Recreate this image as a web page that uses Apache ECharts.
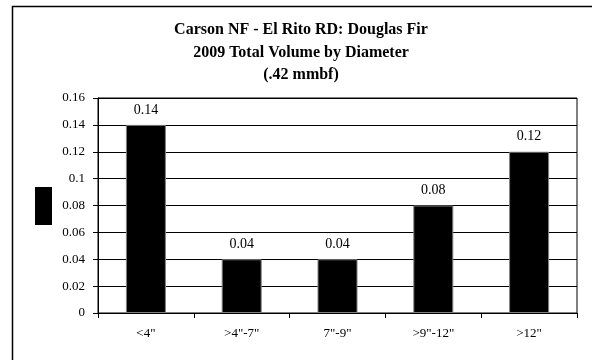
<!DOCTYPE html>
<html><head><meta charset="utf-8">
<script src="https://cdn.jsdelivr.net/npm/echarts@6/dist/echarts.min.js"></script>
<style>html,body{margin:0;padding:0;background:#fff}#c{width:592px;height:360px}</style>
</head><body><div id="c"></div>
<script>
var categories = ['<4"', '>4"-7"', '7"-9"', '>9"-12"', '>12"'];
var volumes = [0.14, 0.04, 0.04, 0.08, 0.12];
var titleLines = ['Carson NF - El Rito RD: Douglas Fir', '2009 Total Volume by Diameter', '(.42 mmbf)'];

var chart = echarts.init(document.getElementById('c'), null, {renderer: 'canvas'});
var serif = '"Liberation Serif", "DejaVu Serif", serif';
chart.setOption({
  animation: false,
  backgroundColor: '#fff',
  graphic: [{
    type: 'rect', shape: {x: 12.5, y: 6.5, width: 640, height: 420},
    style: {fill: 'none', stroke: '#000', lineWidth: 1.5}, silent: true
  }],
  title: {
    text: titleLines.join('\n'),
    left: 296, top: 14, textAlign: 'center',
    textStyle: {fontFamily: serif, fontWeight: 'bold', fontSize: 16, lineHeight: 22.5, color: '#000'}
  },
  legend: {
    data: [' '], left: 30, top: 182, itemWidth: 17, itemHeight: 38,
    icon: 'rect', formatter: function(){return '';}, itemGap: 0,
    itemStyle: {borderWidth: 0, color: '#000'},
    textStyle: {fontSize: 1}
  },
  grid: {left: 98, top: 98, right: 15, bottom: 47, show: true, borderColor: '#000', borderWidth: 1, backgroundColor: 'transparent'},
  xAxis: {
    type: 'category', data: categories,
    axisLine: {lineStyle: {color: '#000', width: 1}},
    axisTick: {show: true, length: 5, inside: false, lineStyle: {color: '#000'}},
    axisLabel: {fontFamily: serif, fontSize: 13, color: '#000', margin: 14}
  },
  yAxis: {
    type: 'value', min: 0, max: 0.16, interval: 0.02,
    axisLine: {show: true, lineStyle: {color: '#000'}},
    axisTick: {show: true, length: 5, lineStyle: {color: '#000'}},
    axisLabel: {fontFamily: serif, fontSize: 13, color: '#000', margin: 13,
      formatter: function(v){ return v === 0 ? '0' : String(Math.round(v*100)/100); }},
    splitLine: {show: true, lineStyle: {color: '#000', width: 1}}
  },
  series: [{
    name: ' ', type: 'bar', data: volumes, barWidth: 40,
    itemStyle: {color: '#000', borderColor: '#808080', borderWidth: 1},
    label: {show: true, position: 'top', distance: 8, fontFamily: serif, fontSize: 14, color: '#000',
      formatter: function(p){ return String(p.value); }}
  }]
});
</script></body></html>
